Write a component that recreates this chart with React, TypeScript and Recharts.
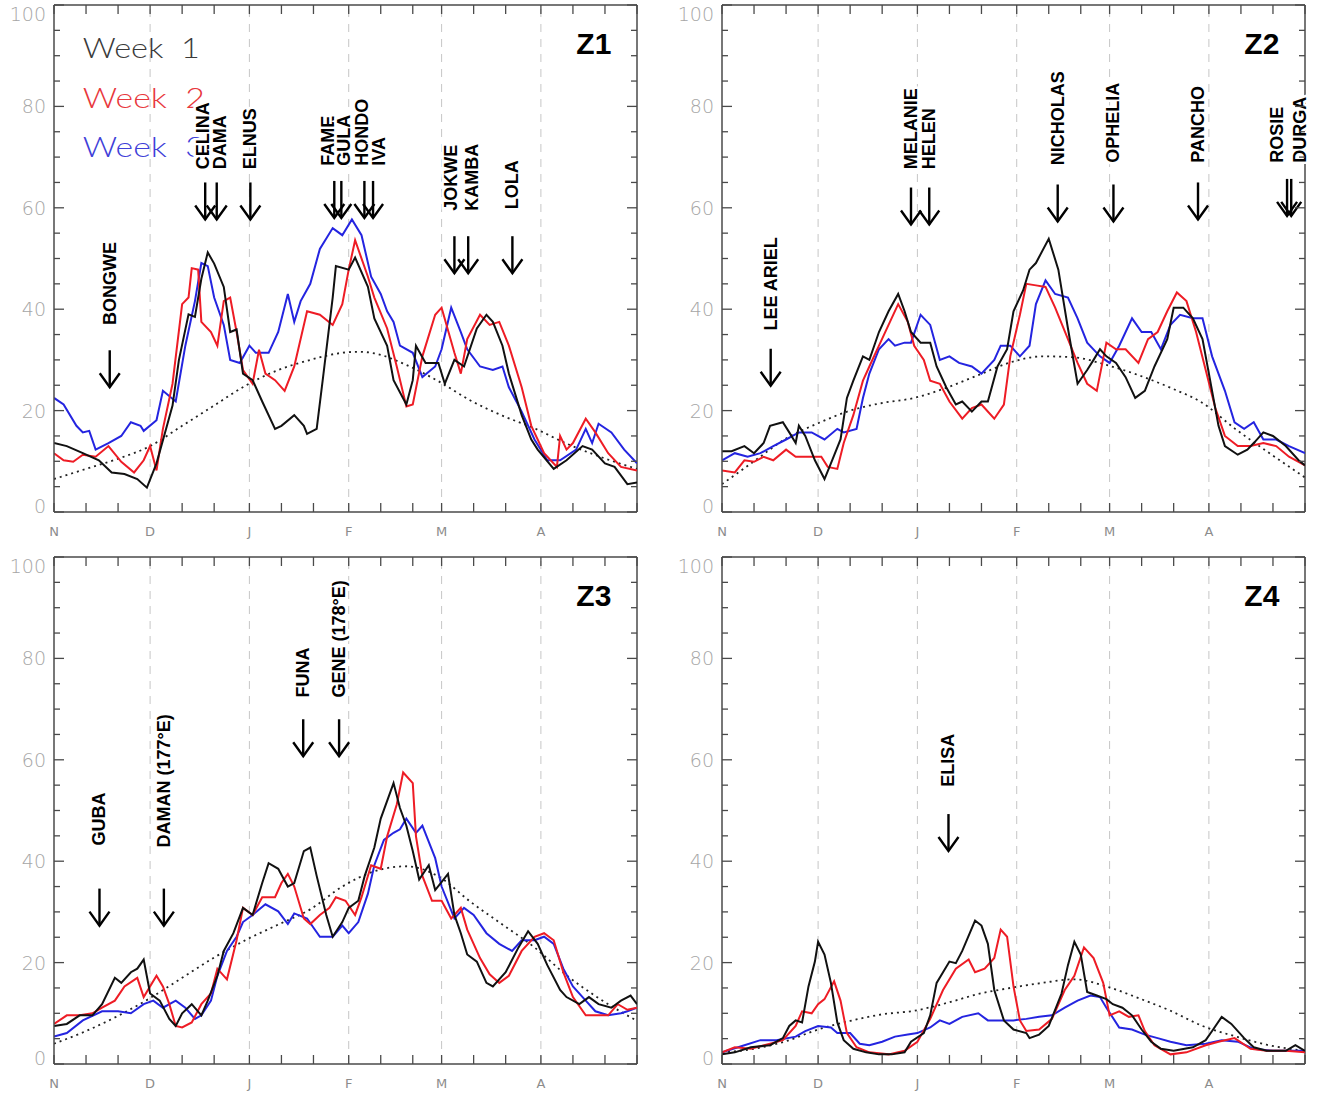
import React from 'react';
import { LineChart, Line, XAxis, YAxis, ReferenceLine, ReferenceDot } from 'recharts';

type Pair = [number, number];

interface Storm {
  name: string;
  day: number;
  tip: number;
  labelDay: number;
  labelAt: number;
}

// days counted from 1 Nov, month starts and minor ticks (1st, 11th, 21st)
const monthDays = [0, 30, 61, 92, 121, 152];
const monthLabels = ['N', 'D', 'J', 'F', 'M', 'A'];
const xTicks = [0, 10, 20, 30, 40, 50, 61, 71, 81, 92, 102, 112, 121, 131, 141, 152, 162, 172, 182];
const yTicks = [0, 5, 10, 15, 20, 25, 30, 35, 40, 45, 50, 55, 60, 65, 70, 75, 80, 85, 90, 95, 100];
const legendLabels = ['Week  1', 'Week  2', 'Week  3'];

// ---- Z1 ----
const z1Week1: Pair[] = [[0,13.6],[4,13],[9,11.6],[14,10.2],[18,7.8],[22,7.5],[26,6.5],[29,4.8],[32,9.6],[35,16.4],[37,21],[39,30],[42,39],[44,38.5],[46,46],[48,51.2],[50,49],[53,44.4],[55,35.5],[57,36],[59,27.3],[62,26],[65,21.8],[69,16.4],[71,17],[75,19.1],[78,17],[79,15.4],[82,16.4],[84,26.6],[87,42.3],[88,48.5],[92,47.8],[94,50.2],[98,44.4],[100,38.2],[104,32.8],[106,26],[110,21.2],[112,26],[113,32.8],[116,29.4],[120,29.4],[122,25.3],[125,30],[128,28.7],[132,36.2],[135,38.9],[137,37.5],[140,32.8],[142,27.3],[146,19.1],[149,14.3],[151,12.3],[156,8.5],[160,10.2],[165,13],[168,12.3],[172,9.6],[175,8.9],[179,5.5],[182,5.8]];
const z1Week2: Pair[] = [[0,11.6],[3,10.2],[6,9.9],[9,11.3],[13,10.9],[17,13],[21,9.9],[25,7.8],[28,10.2],[30,13],[32,8.2],[34,16.4],[37,25.3],[40,41],[42,42.3],[43,48.1],[45,47.8],[46,37.5],[49,35.5],[51,32.8],[53,41.6],[55,42.3],[57,35.5],[59,28],[62,25.3],[64,32],[66,27.3],[69,26],[72,23.9],[75,28.7],[79,39.6],[83,38.9],[87,36.9],[90,41],[92,47.8],[94,53.6],[98,46.4],[100,42.3],[104,36.2],[107,28.7],[110,20.8],[112,21.2],[115,30.7],[119,38.9],[121,40.3],[125,31.4],[127,27.3],[129,34.1],[133,38.9],[136,36.9],[139,37.5],[142,32.8],[146,24.6],[149,17],[153,11.6],[157,8.9],[158,15],[160,12.3],[162,13.6],[166,18.4],[169,15.7],[173,11.6],[177,8.9],[182,8.2]];
const z1Week3: Pair[] = [[0,22.5],[3,21.2],[7,17],[9,15.7],[11,16],[13,12.3],[17,13.6],[21,15],[24,17.7],[27,17],[28,16],[32,18.1],[34,23.9],[38,21.8],[41,32.8],[44,41.6],[46,49.1],[48,48.5],[50,42.3],[53,36.9],[55,30],[58,29.4],[61,32.8],[63,31.4],[67,31.4],[70,35.5],[73,43],[75,37.5],[77,41.6],[80,45],[83,51.9],[87,56],[90,54.6],[93,57.7],[96,54.6],[99,46.4],[102,43],[104,39.6],[106,37.5],[108,32.8],[112,31.4],[115,26.6],[119,28.7],[121,32.1],[124,40.3],[127,35.5],[129,32.1],[133,28.7],[137,28],[140,28.7],[142,24.6],[146,19.8],[150,14.3],[154,10.2],[158,10.2],[163,12.3],[166,16.4],[168,13.6],[170,17.4],[174,15.7],[178,12.3],[182,9.6]];
const z1Clim: Pair[] = [[0,6.5],[10,8.5],[20,10.5],[30,13],[40,17],[50,21],[60,25],[70,28],[80,30],[90,31.4],[95,31.6],[100,31.3],[110,29],[120,25.8],[130,22],[140,19],[150,16.5],[160,13.5],[170,11],[182,8.5]];
const z1Storms: Storm[] = [
  { name: 'BONGWE', day: 17.4, tip: 24.6, labelDay: 17.4, labelAt: 36.9 },
  { name: 'CELINA', day: 47.2, tip: 57.7, labelDay: 46.4, labelAt: 67.6 },
  { name: 'DAMA', day: 50.8, tip: 57.7, labelDay: 51.7, labelAt: 67.6 },
  { name: 'ELNUS', day: 61.3, tip: 57.7, labelDay: 61.3, labelAt: 67.6 },
  { name: 'FAME', day: 87.5, tip: 58, labelDay: 85.5, labelAt: 68.3 },
  { name: 'GULA', day: 89.7, tip: 58, labelDay: 90.5, labelAt: 68.3 },
  { name: 'HONDO', day: 96.9, tip: 58, labelDay: 96, labelAt: 68.3 },
  { name: 'IVA', day: 99.6, tip: 58, labelDay: 101.6, labelAt: 68.3 },
  { name: 'JOKWE', day: 125, tip: 47.1, labelDay: 124, labelAt: 59.4 },
  { name: 'KAMBA', day: 129.3, tip: 47.1, labelDay: 130.6, labelAt: 59.4 },
  { name: 'LOLA', day: 143.1, tip: 47.1, labelDay: 143.1, labelAt: 59.7 },
];

// ---- Z2 ----
const z2Week1: Pair[] = [[0,12],[3,12],[7,13],[10,11.6],[13,13.6],[15,17],[19,17.7],[21,15.7],[23,13.6],[24,17],[26,15],[29,10.2],[32,6.5],[34,9.6],[37,14.3],[39,22.5],[41,25.9],[44,30.7],[46,30],[49,35.5],[52,39.6],[55,43],[57,39.6],[59,35.5],[62,33.4],[65,33.4],[67,28.7],[70,24.6],[73,21.2],[75,21.8],[78,19.8],[81,21.8],[83,21.8],[86,28.7],[89,32.1],[91,39.6],[94,43.7],[96,47.8],[98,49.1],[102,53.9],[105,47.8],[108,36.2],[111,25.3],[114,28],[116,30],[118,32.1],[120,30.7],[123,29.4],[126,26.6],[129,22.5],[132,23.9],[135,28.7],[139,34.1],[141,40.3],[144,40.3],[147,38.2],[150,34.1],[152,27.3],[155,17],[157,13],[161,11.3],[164,12.3],[166,13.6],[169,15.7],[172,15],[176,13],[180,10.2],[182,9.2]];
const z2Week2: Pair[] = [[0,8.2],[4,7.8],[7,10.2],[10,9.9],[13,10.9],[16,10.2],[20,12.3],[23,10.9],[25,10.9],[28,10.9],[31,10.9],[33,8.9],[36,8.5],[38,13.6],[41,19.1],[44,25.9],[46,28.7],[49,32.8],[52,36.9],[55,41],[58,37.5],[60,32.8],[63,30],[65,25.9],[68,25.3],[71,21.8],[75,18.4],[78,20.5],[81,21.2],[85,18.4],[88,21.2],[90,30.7],[93,38.9],[95,45],[98,44.7],[101,44.4],[104,40.3],[108,34.1],[111,29.4],[114,25.3],[117,23.9],[120,33.4],[123,32.1],[126,32.1],[130,29.4],[133,34.1],[136,35.5],[139,39.6],[142,43.3],[145,41.6],[148,35.5],[151,28],[154,20.5],[157,15],[161,13],[165,13],[169,13.6],[173,13],[177,10.9],[182,9.2]];
const z2Week3: Pair[] = [[0,10.2],[4,11.6],[8,10.9],[12,11.6],[16,13],[20,14.3],[24,15.7],[28,15.7],[32,14.3],[36,16.4],[38,15.7],[42,16.4],[44,22.5],[46,27.3],[49,32.1],[52,34.1],[54,32.8],[57,33.4],[59,33.4],[62,38.9],[65,36.9],[68,30],[71,30.7],[74,29.4],[78,28.7],[81,27.3],[85,30],[87,32.8],[90,32.8],[93,30.7],[96,32.8],[98,41],[101,45.7],[104,43],[108,42.3],[111,38.2],[114,33.4],[118,30.7],[121,29.4],[124,32.8],[128,38.2],[131,35.5],[134,35.5],[137,32.1],[140,36.9],[143,38.9],[147,38.2],[150,38.2],[153,30.7],[157,23.9],[160,17.7],[163,16.4],[166,17.7],[169,14.3],[173,14.3],[177,13],[182,11.6]];
const z2Clim: Pair[] = [[0,5.5],[10,10],[20,14.5],[30,17.5],[40,20],[50,21.5],[60,22.5],[70,24.5],[80,27],[90,29.5],[100,30.7],[110,30.5],[120,29],[130,27],[140,24.5],[150,21.5],[160,16.5],[170,12],[182,6.8]];
const z2Storms: Storm[] = [
  { name: 'LEE ARIEL', day: 15.2, tip: 24.9, labelDay: 15.2, labelAt: 35.8 },
  { name: 'MELANIE', day: 59, tip: 56.7, labelDay: 59, labelAt: 67.6 },
  { name: 'HELEN', day: 64.7, tip: 56.7, labelDay: 64.7, labelAt: 67.6 },
  { name: 'NICHOLAS', day: 104.8, tip: 57.3, labelDay: 104.8, labelAt: 68.4 },
  { name: 'OPHELIA', day: 122.2, tip: 57.3, labelDay: 122.2, labelAt: 68.9 },
  { name: 'PANCHO', day: 148.6, tip: 57.7, labelDay: 148.6, labelAt: 68.9 },
  { name: 'ROSIE', day: 176.4, tip: 58.4, labelDay: 173.4, labelAt: 68.9 },
  { name: 'DURGA', day: 177.7, tip: 58.4, labelDay: 180.3, labelAt: 68.9 },
];

// ---- Z3 ----
const z3Week1: Pair[] = [[0,7.5],[4,7.9],[8,9.6],[12,9.6],[15,11.8],[19,17],[21,16],[24,18.1],[26,18.8],[28,20.6],[30,13.9],[33,12.5],[36,8.9],[38,7.5],[40,10],[43,11.8],[46,9.6],[48,12.5],[51,17.4],[53,22.3],[56,25.8],[59,30.8],[62,29.4],[65,35.7],[67,39.6],[70,38.5],[73,35],[75,35.7],[78,42],[80,42.7],[82,37.1],[85,29.4],[87,25.1],[90,28],[92,30.8],[95,32.2],[97,37.1],[100,42.7],[102,48.4],[106,55.4],[108,50.5],[110,47],[112,42],[114,36.4],[117,39.2],[119,34.3],[123,37.5],[125,29.4],[127,25.8],[129,21.6],[132,20.2],[135,16],[137,15.3],[141,18.1],[145,23],[148,26.2],[151,23.7],[154,19.5],[158,14.6],[160,13.2],[164,11.8],[167,13.2],[170,11.8],[174,11.1],[177,12.5],[180,13.5],[182,11.8]];
const z3Week2: Pair[] = [[0,7.9],[4,9.6],[8,9.6],[12,10],[15,11.1],[19,12.5],[22,15.3],[26,17],[28,13.2],[32,17.4],[34,15.3],[36,11.8],[38,7.5],[40,7.2],[43,8.2],[46,11.8],[49,13.9],[51,18.8],[54,16.7],[57,24.4],[59,30.8],[62,29.4],[65,32.9],[69,32.9],[71,35.7],[73,37.5],[75,35],[78,28.7],[80,27.6],[83,29.4],[86,30.8],[88,32.9],[91,32.2],[94,29.4],[96,32.9],[99,39.2],[102,38.5],[104,44.9],[107,51.2],[109,57.5],[112,55.4],[113,44.9],[115,37.1],[118,32.2],[121,32.2],[124,28.7],[127,30.8],[129,26.5],[133,20.9],[136,17.7],[139,16],[142,17.4],[146,22.3],[150,25.1],[153,25.8],[156,24.4],[159,18.1],[162,13.2],[166,9.6],[169,9.6],[173,9.6],[176,11.8],[179,10.7],[182,11.1]];
const z3Week3: Pair[] = [[0,5.4],[4,6.1],[9,8.6],[15,10.4],[20,10.4],[24,10],[28,11.8],[31,12.5],[34,11.1],[38,12.5],[41,11.1],[44,8.9],[46,9.6],[49,12.5],[51,17.4],[54,22.3],[57,25.1],[59,28],[62,29.4],[66,31.5],[70,30.1],[73,27.6],[75,29.7],[79,28.7],[83,25.1],[87,25.1],[90,27.3],[92,25.8],[95,28],[98,33.6],[100,39.2],[103,44.2],[106,45.6],[108,46.3],[110,48.4],[113,45.6],[115,47],[119,40.6],[121,35],[125,28.7],[128,30.8],[131,29.4],[135,25.8],[139,23.7],[143,22.3],[146,24.4],[150,24.4],[153,25.1],[156,23.7],[159,18.8],[162,15.3],[166,12.5],[169,10.4],[173,9.6],[177,10],[179,10.4],[182,11.1]];
const z3Clim: Pair[] = [[0,4],[10,6.5],[20,9.5],[30,13],[40,17],[50,21],[60,24.5],[70,27.5],[80,30.5],[90,35],[100,38],[110,39],[120,37],[130,32],[140,27.5],[150,23],[160,17.5],[170,13],[182,8.5]];
const z3Storms: Storm[] = [
  { name: 'GUBA', day: 14.2, tip: 27.3, labelDay: 14.2, labelAt: 43.1 },
  { name: 'DAMAN (177°E)', day: 34.3, tip: 27.3, labelDay: 34.3, labelAt: 42.7 },
  { name: 'FUNA', day: 77.8, tip: 60.7, labelDay: 77.8, labelAt: 72.3 },
  { name: 'GENE (178°E)', day: 89, tip: 60.7, labelDay: 89, labelAt: 72.3 },
];

// ---- Z4 ----
const z4Week1: Pair[] = [[0,1.9],[4,2.3],[9,3.3],[15,3.7],[19,5.1],[21,7.5],[23,8.6],[25,8.2],[27,15.3],[29,20.2],[30,24.1],[32,21.6],[34,16],[36,8.2],[38,4.7],[41,3],[45,2.3],[49,1.9],[53,1.9],[57,2.3],[59,4.4],[63,6.1],[65,9.6],[67,16],[71,20.2],[73,19.9],[75,22.3],[79,28.3],[81,27.3],[83,23.7],[85,14.6],[88,8.6],[91,6.8],[95,6.1],[96,5.1],[99,5.8],[102,7.5],[106,13.9],[108,19.5],[110,24.1],[112,21.6],[114,14.2],[117,13.5],[120,12.8],[122,11.8],[125,11.1],[128,9.6],[131,6.8],[134,4.4],[137,3],[141,2.6],[147,3.3],[151,4.7],[153,6.5],[156,9.3],[159,7.9],[163,5.1],[166,3.3],[170,2.6],[176,2.6],[179,3.7],[182,2.6]];
const z4Week2: Pair[] = [[0,2.3],[4,3.3],[9,3],[15,4],[19,4.7],[23,7.5],[25,10.4],[28,10],[30,11.8],[32,12.8],[35,16.3],[37,12.5],[39,6.1],[42,3.3],[46,2.3],[52,1.9],[57,2.6],[61,4.4],[65,8.9],[69,14.6],[73,18.8],[77,20.6],[79,18.1],[82,18.8],[85,20.9],[87,26.5],[89,25.1],[91,15.3],[93,8.6],[95,6.5],[99,6.8],[103,8.9],[107,14.6],[110,17.4],[113,23],[116,20.9],[119,16],[121,9.6],[124,10.4],[127,9.3],[130,9.6],[132,6.5],[135,3.7],[140,1.9],[145,2.3],[151,3.7],[155,4.4],[160,5.1],[165,3],[170,2.6],[176,2.6],[182,2.3]];
const z4Week3: Pair[] = [[0,2.3],[7,3.7],[12,4.7],[17,4.7],[23,5.4],[26,6.5],[30,7.5],[34,7.2],[36,6.1],[40,6.1],[43,4],[46,3.7],[50,4.4],[54,5.4],[58,5.8],[61,6.1],[65,7.2],[68,8.6],[71,7.9],[75,9.3],[80,10],[83,8.6],[87,8.6],[91,8.6],[95,8.9],[99,9.3],[103,9.6],[107,11.1],[111,12.5],[115,13.5],[118,13.2],[120,11.1],[124,7.2],[128,6.8],[132,5.8],[136,5.1],[140,4.4],[145,3.7],[151,4],[156,4.7],[161,4.4],[166,3],[172,2.6],[177,2.6],[182,2.6]];
const z4Clim: Pair[] = [[0,2.3],[10,3],[20,4.5],[30,6.8],[40,8.5],[50,9.8],[60,10.5],[70,12],[80,13.8],[90,15],[100,16],[110,16.7],[120,15.3],[130,13],[140,10.5],[150,7.5],[160,5.5],[170,3.8],[182,2.6]];
const z4Storms: Storm[] = [
  { name: 'ELISA', day: 70.7, tip: 42, labelDay: 70.7, labelAt: 54.7 },
];

const W = 662;
const H = 550;
const MARGIN = { top: 5, right: 25, bottom: 8, left: 0 };
const Y_W = 54;
const X_H = 30;
const PLOT_W = W - MARGIN.left - MARGIN.right - Y_W;
const PLOT_H = H - MARGIN.top - MARGIN.bottom - X_H;
const AXIS = '#4a4a4a';
const COLORS = ['#111111', '#ee1c25', '#2424e0'];
const LEGEND_COLORS = ['#3a3a3a', '#e8383d', '#4040d8'];

const toPts = (p: Pair[]) => p.map(([day, v]) => ({ day, v }));

const XTick = (props: any) => {
  const { x, y, payload } = props;
  const i = monthDays.indexOf(payload.value);
  return (
    <g>
      <line x1={x} x2={x} y1={y} y2={y - 9} stroke={AXIS} strokeWidth={1.3} />
      <line x1={x} x2={x} y1={y - PLOT_H} y2={y - PLOT_H + 9} stroke={AXIS} strokeWidth={1.3} />
      {i >= 0 && (
        <text x={x} y={y + 24} textAnchor="middle" fill="#8c8c8c" fontSize={13} fontFamily="DejaVu Sans">
          {monthLabels[i]}
        </text>
      )}
    </g>
  );
};

const YTick = (props: any) => {
  const { x, y, payload } = props;
  const v = payload.value;
  const major = v % 20 === 0;
  const len = major ? 10 : 6;
  const dy = v === 100 ? 9 : v === 0 ? -6 : 0;
  return (
    <g>
      <line x1={x} x2={x + len} y1={y} y2={y} stroke={AXIS} strokeWidth={1.3} />
      <line x1={x + PLOT_W} x2={x + PLOT_W - len} y1={y} y2={y} stroke={AXIS} strokeWidth={1.3} />
      {major && (
        <text x={x - 8} y={y + dy} textAnchor="end" dominantBaseline="central" fill="#a6a6a6" fontSize={19} fontFamily="DejaVu Sans" fontWeight={300}>
          {v}
        </text>
      )}
    </g>
  );
};

const Arrow = (props: any) => {
  const { cx, cy } = props;
  return (
    <g stroke="#000" strokeWidth={2.4} fill="none">
      <line x1={cx} y1={cy - 37} x2={cx} y2={cy} />
      <polyline points={`${cx - 10},${cy - 14} ${cx},${cy} ${cx + 10},${cy - 14}`} />
    </g>
  );
};

const StormText = (props: any) => {
  const { cx, cy, text } = props;
  return (
    <text
      transform={`translate(${cx},${cy}) rotate(-90)`}
      textAnchor="start"
      dominantBaseline="central"
      fontFamily="Liberation Sans, Arial, sans-serif"
      fontWeight="bold"
      fontSize={18}
      fill="#000"
      stroke="#fff"
      strokeWidth={5}
      paintOrder="stroke"
      style={{ whiteSpace: 'pre' }}
    >
      {text}
    </text>
  );
};

interface PanelProps {
  title: string;
  week1: Pair[];
  week2: Pair[];
  week3: Pair[];
  clim: Pair[];
  storms: Storm[];
  showLegend?: boolean;
  left: number;
  top: number;
}

const Panel: React.FC<PanelProps> = ({ title, week1, week2, week3, clim, storms, showLegend, left, top }) => (
  <div style={{ position: 'absolute', left, top, width: W, height: H }}>
    <LineChart width={W} height={H} margin={MARGIN}>
      <XAxis
        type="number"
        dataKey="day"
        domain={[0, 182]}
        ticks={xTicks}
        interval={0}
        height={X_H}
        tickSize={0}
        tickMargin={0}
        tickLine={false}
        tick={<XTick />}
        axisLine={{ stroke: AXIS, strokeWidth: 1.5 }}
        allowDataOverflow
      />
      <YAxis
        type="number"
        domain={[0, 100]}
        ticks={yTicks}
        interval={0}
        width={Y_W}
        tickSize={0}
        tickMargin={0}
        tickLine={false}
        tick={<YTick />}
        axisLine={{ stroke: AXIS, strokeWidth: 1.5 }}
        allowDataOverflow
      />
      {monthDays.slice(1).map((d) => (
        <ReferenceLine key={d} x={d} stroke="#c6c6c6" strokeDasharray="8 7" strokeWidth={1} />
      ))}
      <ReferenceLine y={100} stroke={AXIS} strokeWidth={1.5} />
      <ReferenceLine x={182} stroke={AXIS} strokeWidth={1.5} />
      <Line data={toPts(clim)} dataKey="v" type="monotone" stroke="#222" strokeWidth={1.8} strokeDasharray="2 4" dot={false} isAnimationActive={false} />
      <Line data={toPts(week3)} dataKey="v" type="linear" stroke={COLORS[2]} strokeWidth={2} dot={false} isAnimationActive={false} />
      <Line data={toPts(week2)} dataKey="v" type="linear" stroke={COLORS[1]} strokeWidth={2} dot={false} isAnimationActive={false} />
      <Line data={toPts(week1)} dataKey="v" type="linear" stroke={COLORS[0]} strokeWidth={2} dot={false} isAnimationActive={false} />
      {showLegend &&
        legendLabels.map((lbl, i) => (
          <ReferenceDot
            key={lbl}
            x={9}
            y={91.7 - i * 9.85}
            shape={(p: any) => (
              <text
                x={p.cx}
                y={p.cy}
                dominantBaseline="central"
                fill={LEGEND_COLORS[i]}
                fontSize={27}
                fontFamily="Lato, DejaVu Sans, sans-serif"
                fontWeight={300}
                textLength={i === 0 ? 117 : 122}
                lengthAdjust="spacingAndGlyphs"
                style={{ whiteSpace: 'pre' }}
              >
                {lbl}
              </text>
            )}
          />
        ))}
      {storms.map((s) => (
        <ReferenceDot key={s.name + 'a'} x={s.day} y={s.tip} shape={<Arrow />} />
      ))}
      {storms.map((s) => (
        <ReferenceDot key={s.name + 't'} x={s.labelDay} y={s.labelAt} shape={(p: any) => <StormText {...p} text={s.name} />} />
      ))}
      <ReferenceDot
        x={174}
        y={92.4}
        shape={(p: any) => (
          <text x={p.cx} y={p.cy} textAnchor="end" dominantBaseline="central" fontSize={30} fontWeight="bold" fontFamily="Liberation Sans, Arial, sans-serif" fill="#000">
            {title}
          </text>
        )}
      />
    </LineChart>
  </div>
);

export default function App() {
  return (
    <div style={{ position: 'absolute', left: 0, top: 0, width: 1322, height: 1099, background: '#fff' }}>
      <Panel title="Z1" week1={z1Week1} week2={z1Week2} week3={z1Week3} clim={z1Clim} storms={z1Storms} showLegend left={0} top={0} />
      <Panel title="Z2" week1={z2Week1} week2={z2Week2} week3={z2Week3} clim={z2Clim} storms={z2Storms} left={668} top={0} />
      <Panel title="Z3" week1={z3Week1} week2={z3Week2} week3={z3Week3} clim={z3Clim} storms={z3Storms} left={0} top={552} />
      <Panel title="Z4" week1={z4Week1} week2={z4Week2} week3={z4Week3} clim={z4Clim} storms={z4Storms} left={668} top={552} />
    </div>
  );
}
